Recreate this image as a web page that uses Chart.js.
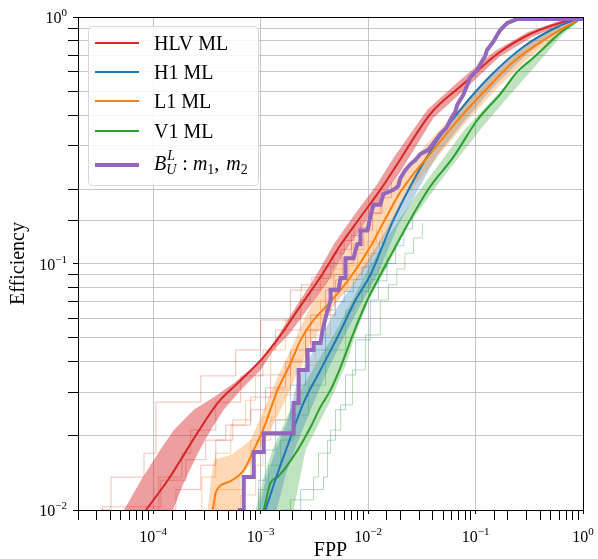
<!DOCTYPE html>
<html>
<head>
<meta charset="utf-8">
<script src="https://cdn.jsdelivr.net/npm/chart.js@4.4.1/dist/chart.umd.min.js"></script>
<style>
  html, body { margin: 0; padding: 0; background: #fff; }
</style>
</head>
<body>
<canvas id="effChart" width="598" height="559"></canvas>
<script>
// HLV ML median curve
const hlvFpp = [8.57e-5, 1.37e-4, 1.81e-4, 2.61e-4, 4.0e-4, 6.12e-4, 1.07e-3, 1.54e-3, 2.21e-3, 3.61e-3, 5.55e-3, 8.49e-3, 1.30e-2, 1.87e-2, 3.79e-2, 7.69e-2, 0.159, 0.322, 0.652, 1];
const hlvEff = [0.01, 0.0132, 0.0160, 0.0207, 0.0272, 0.0327, 0.0418, 0.0513, 0.0647, 0.0881, 0.119, 0.154, 0.199, 0.253, 0.404, 0.535, 0.708, 0.853, 0.954, 1];
// HLV band outline (upper edge going up, lower edge coming back)
const hlvBandFpp = [5.36e-5, 7.71e-5, 1.11e-4, 1.56e-4, 2.39e-4, 3.67e-4, 5.62e-4, 9.4e-4, 1.38e-3, 1.99e-3, 3.18e-3, 4.88e-3, 7.64e-3, 1.20e-2, 1.72e-2, 3.56e-2, 7.21e-2, 0.152, 0.308, 0.638, 1,
  0.667, 0.336, 0.166, 0.0820, 0.0405, 0.0204, 0.0142, 0.00946, 0.00630, 0.0042, 0.00262, 0.00182, 0.00132, 1.0e-3, 6.53e-4, 4.54e-4, 3.44e-4, 2.61e-4, 1.93e-4, 1.53e-4];
const hlvBandEff = [0.01, 0.0132, 0.0170, 0.0211, 0.0255, 0.0287, 0.0327, 0.0394, 0.0490, 0.0635, 0.0873, 0.121, 0.160, 0.208, 0.268, 0.420, 0.555, 0.728, 0.869, 0.972, 1,
  0.937, 0.830, 0.688, 0.515, 0.389, 0.239, 0.190, 0.147, 0.1135, 0.0841, 0.0635, 0.0513, 0.0446, 0.0370, 0.0307, 0.0255, 0.0211, 0.0170, 0.0129, 0.01];
// HLV single-run curves (faint steps)
const hlvRun1Fpp = [3.27e-5, 4.06e-5, 8.22e-5, 1.06e-4, 2.78e-4, 5.87e-4, 1.0e-3, 1.90e-3, 2.4e-3, 3.0e-3, 3.8e-3, 4.8e-3, 6.0e-3, 7.4e-3];
const hlvRun1Eff = [0.01, 0.0136, 0.0170, 0.0274, 0.0350, 0.0446, 0.059, 0.078, 0.082, 0.088, 0.097, 0.11, 0.124, 0.14];
const hlvRun2Fpp = [5.59e-5, 1.13e-4, 1.85e-4, 2.24e-4, 3.83e-4, 6.53e-4, 1.05e-3, 1.38e-3, 2.36e-3, 2.9e-3, 3.6e-3, 4.5e-3, 5.6e-3, 7.0e-3, 8.5e-3];
const hlvRun2Eff = [0.01, 0.0136, 0.0170, 0.0211, 0.0274, 0.0350, 0.0446, 0.0537, 0.0711, 0.078, 0.087, 0.1, 0.114, 0.13, 0.148];
const hlvRun3Fpp = [1.18e-4, 1.63e-4, 2.78e-4, 3.83e-4, 5.51e-4, 8.09e-4, 1.24e-3, 1.90e-3, 2.92e-3, 4.98e-3, 6.0e-3, 7.3e-3, 9.0e-3, 1.1e-2, 1.35e-2, 1.65e-2];
const hlvRun3Eff = [0.01, 0.0121, 0.0152, 0.0192, 0.0232, 0.0287, 0.0353, 0.0446, 0.0618, 0.0857, 0.1, 0.118, 0.137, 0.16, 0.185, 0.215];
const hlvRun4Fpp = [2.94e-5, 3.35e-5, 1.18e-4, 2.02e-4, 3.09e-4, 4.74e-4, 8.09e-4, 1.11e-3, 1.71e-3, 2.62e-3, 4.02e-3, 4.8e-3, 5.8e-3, 7.0e-3, 8.6e-3, 1.05e-2, 1.3e-2];
const hlvRun4Eff = [0.0098, 0.0103, 0.0132, 0.0160, 0.0192, 0.0221, 0.0255, 0.0313, 0.0398, 0.0537, 0.078, 0.09, 0.105, 0.12, 0.14, 0.16, 0.185];

// H1 ML
const h1Fpp = [1.11e-3, 1.44e-3, 1.82e-3, 2.51e-3, 3.61e-3, 5.20e-3, 7.64e-3, 1.05e-2, 1.72e-2, 3.96e-2, 7.21e-2, 0.137, 0.277, 0.574, 1];
const h1Eff = [0.01, 0.0141, 0.0187, 0.0272, 0.0370, 0.0503, 0.0711, 0.0898, 0.150, 0.294, 0.420, 0.576, 0.756, 0.911, 1];
const h1BandFpp = [9.6e-4, 1.11e-3, 1.38e-3, 1.79e-3, 2.21e-3, 3.11e-3, 4.98e-3, 7.64e-3, 1.30e-2, 3.07e-2, 6.48e-2, 0.128, 0.260, 0.550, 1,
  0.598, 0.296, 0.152, 8.02e-2, 4.41e-2, 1.91e-2, 1.22e-2, 8.49e-3, 5.78e-3, 4.02e-3, 2.92e-3, 2.16e-3, 1.71e-3, 1.41e-3];
const h1BandEff = [0.01, 0.0132, 0.0175, 0.0232, 0.0337, 0.0446, 0.0647, 0.0857, 0.124, 0.251, 0.400, 0.555, 0.748, 0.911, 1,
  0.885, 0.701, 0.530, 0.382, 0.275, 0.143, 0.0898, 0.0679, 0.049, 0.0353, 0.0255, 0.0184, 0.0139, 0.01];
const h1Run1Fpp = [9.0e-4, 9.6e-4, 1.11e-3, 1.38e-3, 1.90e-3, 2.62e-3, 4.02e-3, 4.9e-3, 6.0e-3, 7.3e-3, 8.8e-3, 1.06e-2, 1.28e-2];
const h1Run1Eff = [0.0098, 0.0132, 0.0175, 0.0232, 0.0321, 0.0446, 0.0647, 0.07, 0.077, 0.086, 0.097, 0.11, 0.124];
const h1Run2Fpp = [1.64e-3, 2.36e-3, 3.85e-3, 4.2e-3, 4.98e-3, 6.17e-3, 7.64e-3, 1.05e-2, 1.25e-2, 1.5e-2, 1.8e-2, 2.15e-2, 2.6e-2];
const h1Run2Eff = [0.01, 0.0121, 0.0136, 0.0192, 0.0255, 0.0353, 0.049, 0.0711, 0.085, 0.1, 0.118, 0.138, 0.16];

// L1 ML
const l1Fpp = [3.59e-4, 3.83e-4, 5.06e-4, 6.97e-4, 8.63e-4, 1.07e-3, 1.44e-3, 1.90e-3, 2.36e-3, 3.11e-3, 4.2e-3, 6.87e-3, 1.05e-2, 1.51e-2, 2.0e-2, 4.05e-2, 7.53e-2, 0.146, 0.224, 0.463, 1];
const l1Eff = [0.01, 0.0118, 0.0130, 0.0145, 0.0175, 0.0215, 0.0307, 0.0394, 0.049, 0.0590, 0.0679, 0.0881, 0.117, 0.157, 0.195, 0.289, 0.400, 0.545, 0.657, 0.822, 1];
const l1BandFpp = [3.23e-4, 3.44e-4, 3.67e-4, 5.28e-4, 8.09e-4, 1.07e-3, 1.44e-3, 1.90e-3, 2.36e-3, 3.11e-3, 4.77e-3, 6.87e-3, 1.05e-2, 1.80e-2, 3.79e-2, 7.21e-2, 0.143, 0.289, 0.550, 1,
  0.611, 0.322, 0.159, 8.2e-2, 4.41e-2, 2.22e-2, 1.17e-2, 7.64e-3, 5.20e-3, 4.2e-3, 2.92e-3, 2.21e-3, 1.54e-3, 1.07e-3, 8.09e-4, 6.53e-4, 6.53e-4];
const l1BandEff = [0.01, 0.0132, 0.0160, 0.0167, 0.0192, 0.0255, 0.0347, 0.0446, 0.0553, 0.0711, 0.0924, 0.119, 0.157, 0.218, 0.317, 0.428, 0.582, 0.770, 0.911, 1,
  0.861, 0.688, 0.515, 0.375, 0.270, 0.186, 0.110, 0.0834, 0.0711, 0.0607, 0.0476, 0.0360, 0.0255, 0.0187, 0.0155, 0.0135, 0.01];
const l1Run1Fpp = [2.50e-4, 2.84e-4, 3.83e-4, 5.28e-4, 7.27e-4, 9.0e-4, 1.24e-3, 1.71e-3, 2.36e-3, 3.0e-3, 3.8e-3, 4.8e-3, 6.0e-3, 7.5e-3, 9.2e-3];
const l1Run1Eff = [0.01, 0.0136, 0.0170, 0.0221, 0.0279, 0.0353, 0.0446, 0.059, 0.078, 0.082, 0.088, 0.095, 0.104, 0.114, 0.126];
const l1Run2Fpp = [3.09e-4, 3.83e-4, 7.27e-4, 8.09e-4, 1.05e-3, 1.38e-3, 1.90e-3, 2.62e-3, 3.61e-3, 4.4e-3, 5.4e-3, 6.6e-3, 8.0e-3, 9.8e-3, 1.2e-2];
const l1Run2Eff = [0.0098, 0.0121, 0.0136, 0.0192, 0.0238, 0.0307, 0.0406, 0.0537, 0.0711, 0.079, 0.088, 0.098, 0.11, 0.123, 0.138];
const l1Run3Fpp = [4.74e-4, 6.53e-4, 9.0e-4, 1.05e-3, 1.24e-3, 1.71e-3, 2.36e-3, 3.25e-3, 4.48e-3, 5.4e-3, 6.5e-3, 7.8e-3, 9.4e-3, 1.13e-2, 1.36e-2];
const l1Run3Eff = [0.01, 0.0115, 0.0152, 0.0192, 0.0232, 0.0293, 0.0387, 0.0513, 0.0711, 0.078, 0.086, 0.096, 0.108, 0.121, 0.136];

// V1 ML
const v1Fpp = [1.07e-3, 1.24e-3, 1.44e-3, 2.21e-3, 2.92e-3, 3.61e-3, 4.48e-3, 5.55e-3, 7.31e-3, 9.87e-3, 1.48e-2, 3.64e-2, 6.21e-2, 0.104, 0.170, 0.244, 0.343, 0.463, 0.611, 1];
const v1Eff = [0.01, 0.0129, 0.0136, 0.0175, 0.0217, 0.0262, 0.0307, 0.0380, 0.0522, 0.0711, 0.1, 0.2, 0.270, 0.382, 0.487, 0.598, 0.682, 0.770, 0.861, 1];
const v1BandFpp = [9.0e-4, 1.05e-3, 1.29e-3, 1.71e-3, 2.36e-3, 3.46e-3, 5.09e-3, 7.16e-3, 9.87e-3, 1.45e-2, 2.58e-2, 4.51e-2, 7.85e-2, 0.143, 0.289, 0.505, 1,
  0.638, 0.382, 0.201, 0.120, 7.21e-2, 4.41e-2, 2.37e-2, 1.45e-2, 1.01e-2, 7.64e-3, 6.17e-3, 4.48e-3, 3.25e-3, 2.62e-3, 2.36e-3, 2.03e-3];
const v1BandEff = [0.01, 0.0132, 0.0175, 0.0232, 0.0307, 0.0406, 0.0537, 0.0711, 0.0941, 0.124, 0.181, 0.251, 0.348, 0.461, 0.633, 0.822, 1,
  0.845, 0.651, 0.474, 0.365, 0.275, 0.208, 0.143, 0.0941, 0.0711, 0.0513, 0.0387, 0.0279, 0.0211, 0.0175, 0.0139, 0.01];
const v1Run1Fpp = [8.09e-4, 9.6e-4, 1.19e-3, 1.54e-3, 2.03e-3, 2.80e-3, 4.02e-3, 6.17e-3, 7.4e-3, 8.8e-3, 1.05e-2, 1.25e-2, 1.5e-2];
const v1Run1Eff = [0.0098, 0.0121, 0.0152, 0.0192, 0.0243, 0.0321, 0.0446, 0.0647, 0.07, 0.077, 0.086, 0.096, 0.108];
const v1Run2Fpp = [1.24e-3, 1.90e-3, 3.11e-3, 3.46e-3, 4.48e-3, 5.55e-3, 7.16e-3, 9.46e-3, 1.30e-2, 1.55e-2, 1.85e-2, 2.2e-2, 2.65e-2, 3.2e-2];
const v1Run2Eff = [0.0098, 0.0110, 0.0136, 0.0170, 0.0211, 0.0267, 0.0370, 0.0513, 0.0711, 0.082, 0.095, 0.11, 0.127, 0.146];

// B_U^L : m1, m2 (staircase, corners listed)
const buFpp = [6.12e-4, 6.97e-4, 6.97e-4, 8.63e-4, 8.63e-4, 1.07e-3, 1.07e-3, 2.03e-3, 2.03e-3, 2.26e-3,
  2.26e-3, 2.74e-3, 2.74e-3, 3.11e-3, 3.11e-3, 3.61e-3, 3.77e-3, 4.02e-3, 4.48e-3, 4.48e-3,
  5.31e-3, 5.55e-3, 6.17e-3, 6.17e-3, 7.31e-3, 7.98e-3, 8.49e-3, 8.49e-3, 9.87e-3, 1.05e-2,
  1.12e-2, 1.30e-2, 1.39e-2, 1.72e-2, 1.91e-2, 2.0e-2, 2.22e-2, 2.48e-2, 2.75e-2, 3.07e-2,
  3.64e-2, 3.96e-2, 4.70e-2, 5.35e-2, 5.82e-2, 6.48e-2, 6.76e-2, 7.69e-2, 8.38e-2, 8.93e-2,
  0.104, 0.111, 0.123, 0.128, 0.146, 0.159, 0.170, 0.197, 0.244, 1];
const buEff = [0.01, 0.01, 0.0136, 0.0136, 0.0172, 0.0172, 0.0205, 0.0205, 0.0272, 0.0272,
  0.0370, 0.0370, 0.0446, 0.0446, 0.0476, 0.0476, 0.0537, 0.0601, 0.0711, 0.078,
  0.078, 0.0873, 0.0873, 0.105, 0.105, 0.120, 0.120, 0.136, 0.136, 0.1545,
  0.173, 0.173, 0.191, 0.199, 0.206, 0.222, 0.239, 0.253, 0.263, 0.278,
  0.289, 0.303, 0.335, 0.355, 0.382, 0.412, 0.440, 0.483, 0.530, 0.571,
  0.610, 0.645, 0.695, 0.735, 0.792, 0.845, 0.885, 0.945, 0.981, 0.981];

const xLabelTicks = [1e-4, 1e-3, 1e-2, 1e-1, 1];
const xLabelExps = ["\u22124", "\u22123", "\u22122", "\u22121", "0"];
const yLabelTicks = [1e-2, 1e-1, 1];
const yLabelExps = ["\u22122", "\u22121", "0"];

const SERIF = "'Liberation Serif', 'DejaVu Serif', serif";
const RED = "#d62728", BLUE = "#1f77b4", ORANGE = "#ff7f0e", GREEN = "#2ca02c", PURPLE = "#9467bd";

function pts(xs, ys) {
  return xs.map((x, i) => ({ x: x, y: ys[i] }));
}

function isDecade(v) {
  const l = Math.log10(v);
  return Math.abs(l - Math.round(l)) < 1e-6;
}

function median(xs, ys, color) {
  return {
    data: pts(xs, ys),
    borderColor: color,
    borderWidth: 2,
    pointRadius: 0,
    fill: false,
    cubicInterpolationMode: "monotone",
  };
}

function run(xs, ys, color) {
  return {
    data: pts(xs, ys),
    borderColor: color,
    borderWidth: 1,
    pointRadius: 0,
    fill: false,
    stepped: "before",
  };
}

function band(xs, ys, color) {
  return {
    data: pts(xs, ys),
    borderColor: "rgba(0,0,0,0)",
    borderWidth: 0,
    backgroundColor: color,
    pointRadius: 0,
    fill: "shape",
    tension: 0,
  };
}

function drawPow(ctx, exp, x, baseline, align) {
  ctx.font = "16px " + SERIF;
  const w10 = ctx.measureText("10").width;
  ctx.font = "11px " + SERIF;
  const we = ctx.measureText(exp).width;
  const w = w10 + we;
  const start = align === "center" ? x - w / 2 : x - w;
  ctx.textAlign = "left";
  ctx.textBaseline = "alphabetic";
  ctx.font = "16px " + SERIF;
  ctx.fillText("10", start, baseline);
  ctx.font = "11px " + SERIF;
  ctx.fillText(exp, start + w10, baseline - 7);
}

const framePlugin = {
  id: "frame",
  afterDatasetsDraw(chart) {
    const { ctx, chartArea: a } = chart;
    ctx.save();
    ctx.strokeStyle = "#000";
    ctx.lineWidth = 1;
    ctx.strokeRect(Math.round(a.left) + 0.5, Math.round(a.top) + 0.5, Math.round(a.right - a.left), Math.round(a.bottom - a.top));
    ctx.restore();
  },
};

const labelsPlugin = {
  id: "labels",
  afterDraw(chart) {
    const ctx = chart.ctx;
    const xs = chart.scales.x;
    const ys = chart.scales.y;
    const a = chart.chartArea;
    ctx.save();
    ctx.fillStyle = "#000";
    xLabelTicks.forEach((v, i) => drawPow(ctx, xLabelExps[i], xs.getPixelForValue(v), a.bottom + 32, "center"));
    yLabelTicks.forEach((v, i) => drawPow(ctx, yLabelExps[i], a.left - 11, ys.getPixelForValue(v) + 6, "right"));

    ctx.font = "20px " + SERIF;
    ctx.textAlign = "center";
    ctx.textBaseline = "alphabetic";
    ctx.fillText("FPP", (a.left + a.right) / 2, 556);
    ctx.translate(24, (a.top + a.bottom) / 2);
    ctx.rotate(-Math.PI / 2);
    ctx.fillText("Efficiency", 0, 0);
    ctx.restore();

    // legend
    ctx.save();
    const bx = 88.5, by = 26.5, bw = 170, bh = 159, r = 4;
    ctx.beginPath();
    ctx.moveTo(bx + r, by);
    ctx.arcTo(bx + bw, by, bx + bw, by + bh, r);
    ctx.arcTo(bx + bw, by + bh, bx, by + bh, r);
    ctx.arcTo(bx, by + bh, bx, by, r);
    ctx.arcTo(bx, by, bx + bw, by, r);
    ctx.closePath();
    ctx.fillStyle = "rgba(255,255,255,0.85)";
    ctx.fill();
    ctx.strokeStyle = "#d6d6d6";
    ctx.lineWidth = 1;
    ctx.stroke();

    const rows = [
      { c: RED, y: 43, t: "HLV ML", w: 2 },
      { c: BLUE, y: 72, t: "H1 ML", w: 2 },
      { c: ORANGE, y: 101, t: "L1 ML", w: 2 },
      { c: GREEN, y: 131, t: "V1 ML", w: 2 },
      { c: PURPLE, y: 165, t: null, w: 4 },
    ];
    rows.forEach((row) => {
      ctx.strokeStyle = row.c;
      ctx.lineWidth = row.w;
      ctx.beginPath();
      ctx.moveTo(95, row.y);
      ctx.lineTo(139, row.y);
      ctx.stroke();
      ctx.fillStyle = "#000";
      ctx.textAlign = "left";
      ctx.textBaseline = "alphabetic";
      if (row.t) {
        ctx.font = "20px " + SERIF;
        ctx.fillText(row.t, 154, row.y + 7);
      }
    });
    // math label  B_U^L : m_1, m_2
    const base = 170;
    let x = 154;
    ctx.font = "italic 20px " + SERIF;
    ctx.fillText("B", x, base);
    x += ctx.measureText("B").width;
    ctx.font = "italic 14px " + SERIF;
    ctx.fillText("L", x + 1, base - 10);
    ctx.fillText("U", x, base + 4);
    x += ctx.measureText("U").width + 6;
    ctx.font = "20px " + SERIF;
    ctx.fillText(":", x, base);
    x += ctx.measureText(":").width + 5;
    ctx.font = "italic 20px " + SERIF;
    ctx.fillText("m", x, base);
    x += ctx.measureText("m").width;
    ctx.font = "14px " + SERIF;
    ctx.fillText("1", x, base + 4);
    x += ctx.measureText("1").width;
    ctx.font = "20px " + SERIF;
    ctx.fillText(",", x, base);
    x += ctx.measureText(", ").width + 2;
    ctx.font = "italic 20px " + SERIF;
    ctx.fillText("m", x, base);
    x += ctx.measureText("m").width;
    ctx.font = "14px " + SERIF;
    ctx.fillText("2", x, base + 4);
    ctx.restore();
  },
};

const gridColor = "#c4c4c4";

new Chart(document.getElementById("effChart"), {
  type: "line",
  data: {
    datasets: [
      {
        data: pts(buFpp, buEff),
        borderColor: PURPLE,
        borderWidth: 4,
        pointRadius: 0,
        fill: false,
        tension: 0,
      },
      median(hlvFpp, hlvEff, RED),
      median(l1Fpp, l1Eff, ORANGE),
      median(h1Fpp, h1Eff, BLUE),
      median(v1Fpp, v1Eff, GREEN),
      run(hlvRun1Fpp, hlvRun1Eff, "rgba(214,39,40,0.3)"),
      run(hlvRun2Fpp, hlvRun2Eff, "rgba(214,39,40,0.3)"),
      run(hlvRun3Fpp, hlvRun3Eff, "rgba(214,39,40,0.3)"),
      run(hlvRun4Fpp, hlvRun4Eff, "rgba(214,39,40,0.3)"),
      run(l1Run1Fpp, l1Run1Eff, "rgba(255,127,14,0.35)"),
      run(l1Run2Fpp, l1Run2Eff, "rgba(255,127,14,0.35)"),
      run(l1Run3Fpp, l1Run3Eff, "rgba(255,127,14,0.35)"),
      run(h1Run1Fpp, h1Run1Eff, "rgba(31,119,180,0.35)"),
      run(h1Run2Fpp, h1Run2Eff, "rgba(31,119,180,0.35)"),
      run(v1Run1Fpp, v1Run1Eff, "rgba(44,160,44,0.35)"),
      run(v1Run2Fpp, v1Run2Eff, "rgba(44,160,44,0.35)"),
      band(hlvBandFpp, hlvBandEff, "rgba(214,39,40,0.45)"),
      band(l1BandFpp, l1BandEff, "rgba(255,127,14,0.3)"),
      band(h1BandFpp, h1BandEff, "rgba(31,119,180,0.3)"),
      band(v1BandFpp, v1BandEff, "rgba(44,160,44,0.3)"),
    ],
  },
  options: {
    responsive: false,
    animation: false,
    layout: { padding: { left: 0, right: 15, top: 17, bottom: 0 } },
    plugins: { legend: { display: false }, tooltip: { enabled: false } },
    scales: {
      x: {
        type: "logarithmic",
        min: 2e-5,
        max: 1,
        afterFit: (s) => { s.height = 49; },
        border: { display: false },
        grid: {
          color: (c) => (c.tick && isDecade(c.tick.value) ? gridColor : "rgba(0,0,0,0)"),
          lineWidth: 1,
          tickLength: 10,
          tickColor: "#000",
          tickBorderDash: (c) => (c.tick && isDecade(c.tick.value) ? [4, 30] : []),
        },
        ticks: { autoSkip: false, maxRotation: 0, callback: () => "" },
      },
      y: {
        type: "logarithmic",
        min: 0.01,
        max: 1,
        afterFit: (s) => { s.width = 78; },
        border: { display: false },
        grid: {
          color: gridColor,
          lineWidth: 1,
          tickLength: 10,
          tickColor: "#000",
          tickBorderDash: (c) => (c.tick && isDecade(c.tick.value) ? [0, 5, 5, 30] : []),
        },
        ticks: { autoSkip: false, callback: () => "" },
      },
    },
  },
  plugins: [framePlugin, labelsPlugin],
});
</script>
</body>
</html>
